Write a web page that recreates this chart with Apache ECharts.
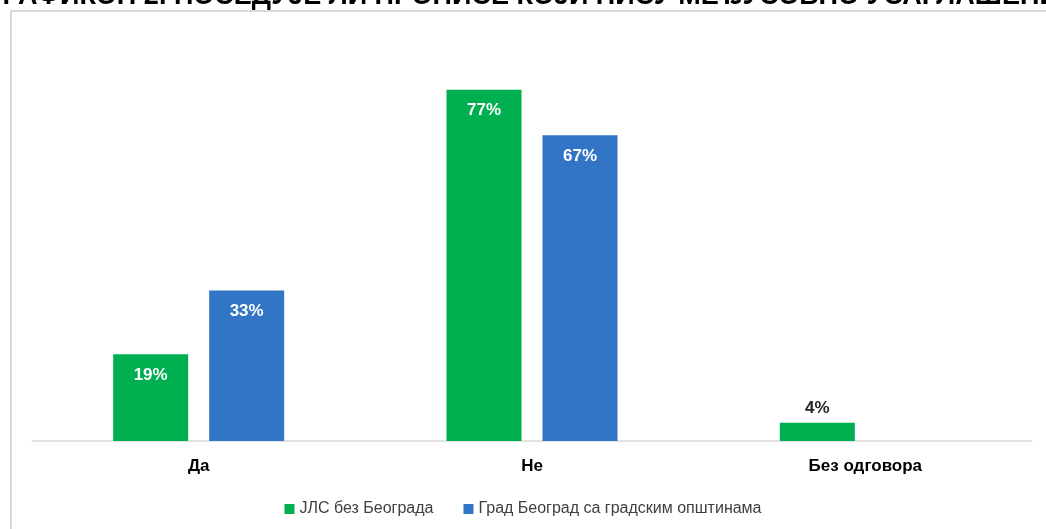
<!DOCTYPE html>
<html>
<head>
<meta charset="utf-8">
<script src="https://cdn.jsdelivr.net/npm/echarts@6/dist/echarts.min.js"></script>
<style>
  html, body { margin: 0; padding: 0; background: #fff; overflow: hidden; }
  #frame {
    position: absolute; left: 10px; top: 10px; width: 1060px; height: 540px;
    border: 2px solid #d9d9d9; box-sizing: border-box;
  }
  #chart { position: absolute; left: 0; top: 0; width: 1046px; height: 529px; }
</style>
</head>
<body>
<div id="frame"></div>
<div id="chart"></div>
<script>
const TITLE = 'ГРАФИКОН 2. ПОСЕДУЈЕ ЛИ ПРОПИСЕ КОЈИ НИСУ МЕЂУСОБНО УСАГЛАШЕНИ'
const CATEGORIES = ['Да', 'Не', 'Без одговора']
const SERIES_NAMES = ['ЈЛС без Београда', 'Град Београд са градским општинама']
const LOCAL_GOV = [19, 77, 4]
const BELGRADE = [33, 67, null]

const GREEN = '#00b050'
const BLUE = '#3275c6'
const FONT = '"Liberation Sans Narrow", "Liberation Sans", Arial, sans-serif'

const chart = echarts.init(document.getElementById('chart'))

// small bars get their label above the bar in dark text
function toData(values) {
  return values.map(v => {
    if (v == null) return '-'
    if (v < 10) {
      return { value: v, label: { position: 'top', color: '#262626', distance: 6 } }
    }
    return v
  })
}

const labelStyle = {
  show: true,
  position: 'insideTop',
  distance: 12,
  color: '#ffffff',
  fontFamily: FONT,
  fontWeight: 'bold',
  fontSize: 17,
  formatter: p => p.value + '%',
}

chart.setOption({
  animation: false,
  title: {
    text: TITLE,
    left: 'center',
    top: -22,
    textStyle: { fontFamily: 'Liberation Sans, Arial, sans-serif', fontWeight: 'bold', fontSize: 27, color: '#000' },
  },
  legend: {
    data: SERIES_NAMES,
    bottom: 7,
    left: 'center',
    itemWidth: 10,
    itemHeight: 10,
    itemGap: 30,
    icon: 'rect',
    textStyle: { fontFamily: FONT, fontSize: 16, color: '#404040' },
  },
  grid: { left: 32, right: 14, top: 76, bottom: 88 },
  xAxis: {
    type: 'category',
    data: CATEGORIES,
    axisTick: { show: false },
    axisLine: { lineStyle: { color: '#d9d9d9', width: 1.5 } },
    axisLabel: { fontFamily: FONT, fontWeight: 'bold', fontSize: 17, color: '#000', margin: 17 },
  },
  yAxis: { type: 'value', min: 0, max: 80, show: false, splitLine: { show: false } },
  series: [
    {
      name: SERIES_NAMES[0],
      type: 'bar',
      data: toData(LOCAL_GOV),
      barWidth: 75,
      barGap: '28%',
      itemStyle: { color: GREEN },
      label: labelStyle,
    },
    {
      name: SERIES_NAMES[1],
      type: 'bar',
      data: toData(BELGRADE),
      barWidth: 75,
      itemStyle: { color: BLUE },
      label: labelStyle,
    },
  ],
})
</script>
</body>
</html>
